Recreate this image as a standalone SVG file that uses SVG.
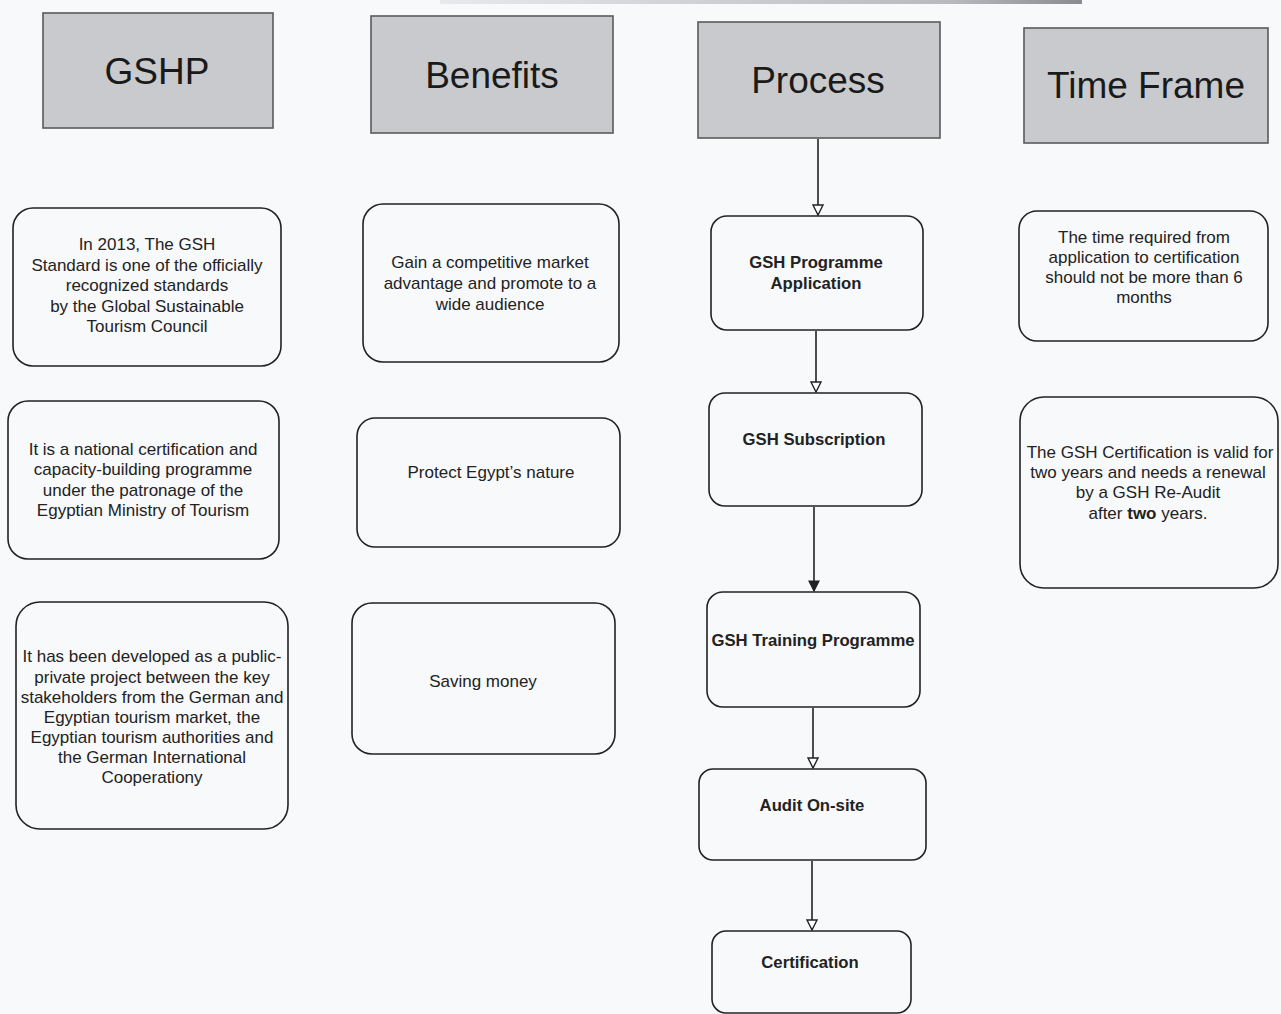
<svg xmlns="http://www.w3.org/2000/svg" width="1281" height="1014" viewBox="0 0 1281 1014">
<defs>
<style>
.hdr rect{fill:#c9cacd;stroke:#5a5a5a;stroke-width:1.6}
.hdr text{font-family:"Liberation Sans",Arial,sans-serif;font-size:37px;fill:#1a1a1a;text-anchor:middle}
.box rect{fill:none;stroke:#222;stroke-width:1.6}
.box text{font-family:"Liberation Sans",Arial,sans-serif;font-size:17px;fill:#222;text-anchor:middle}
.proc text{font-weight:bold;font-size:16.7px}
.conn line{stroke:#222;stroke-width:1.6}
</style>
<linearGradient id="topg" x1="0" y1="0" x2="1" y2="0">
<stop offset="0" stop-color="#e8e9ec"/>
<stop offset="0.8" stop-color="#b8b9bd"/>
<stop offset="1" stop-color="#8a8b90"/>
</linearGradient>
<marker id="open" viewBox="0 0 12 12" refX="11" refY="6" markerWidth="12" markerHeight="12" markerUnits="userSpaceOnUse" orient="auto">
<path d="M1,1 L11,6 L1,11 Z" fill="#fff" stroke="#222" stroke-width="1.4"/>
</marker>
<marker id="filled" viewBox="0 0 12 12" refX="11" refY="6" markerWidth="12" markerHeight="12" markerUnits="userSpaceOnUse" orient="auto">
<path d="M1,1 L11,6 L1,11 Z" fill="#222" stroke="#222" stroke-width="1.2"/>
</marker>
</defs>
<rect x="0" y="0" width="1281" height="1014" fill="#f8f9fb"/>
<rect x="440" y="0" width="642" height="4" fill="url(#topg)"/>

<g id="hdr-gshp" class="hdr"><rect x="43" y="13" width="230" height="115"/><text x="157" y="84">GSHP</text></g>
<g id="hdr-benefits" class="hdr"><rect x="371" y="16" width="242" height="117"/><text x="492" y="88">Benefits</text></g>
<g id="hdr-process" class="hdr"><rect x="698" y="22" width="242" height="116"/><text x="818" y="93">Process</text></g>
<g id="hdr-time" class="hdr"><rect x="1024" y="28" width="244" height="115"/><text x="1146" y="98">Time Frame</text></g>

<g id="gshp-1" class="box"><rect x="13" y="208" width="268" height="158" rx="20"/>
<text x="147"><tspan x="147" y="250">In 2013, The GSH</tspan><tspan x="147" y="271">Standard is one of the officially</tspan><tspan x="147" y="291">recognized standards</tspan><tspan x="147" y="312">by the Global Sustainable</tspan><tspan x="147" y="332">Tourism Council</tspan></text></g>
<g id="gshp-2" class="box"><rect x="8" y="401" width="271" height="158" rx="20"/>
<text x="143"><tspan x="143" y="455">It is a national certification and</tspan><tspan x="143" y="475">capacity-building programme</tspan><tspan x="143" y="496">under the patronage of the</tspan><tspan x="143" y="516">Egyptian Ministry of Tourism</tspan></text></g>
<g id="gshp-3" class="box"><rect x="16" y="602" width="272" height="227" rx="24"/>
<text x="152"><tspan x="152" y="662">It has been developed as a public-</tspan><tspan x="152" y="683">private project between the key</tspan><tspan x="152" y="703">stakeholders from the German and</tspan><tspan x="152" y="723">Egyptian tourism market, the</tspan><tspan x="152" y="743">Egyptian tourism authorities and</tspan><tspan x="152" y="763">the German International</tspan><tspan x="152" y="783">Cooperationy</tspan></text></g>

<g id="ben-1" class="box"><rect x="363" y="204" width="256" height="158" rx="20"/>
<text x="490"><tspan x="490" y="268">Gain a competitive market</tspan><tspan x="490" y="289">advantage and promote to a</tspan><tspan x="490" y="310">wide audience</tspan></text></g>
<g id="ben-2" class="box"><rect x="357" y="418" width="263" height="129" rx="18"/><text x="491" y="478">Protect Egypt’s nature</text></g>
<g id="ben-3" class="box"><rect x="352" y="603" width="263" height="151" rx="20"/><text x="483" y="687">Saving money</text></g>

<g id="proc-1" class="box proc"><rect x="711" y="216" width="212" height="114" rx="16"/>
<text x="816"><tspan x="816" y="268">GSH Programme</tspan><tspan x="816" y="289">Application</tspan></text></g>
<g id="proc-2" class="box proc"><rect x="709" y="393" width="213" height="113" rx="16"/><text x="814" y="445">GSH Subscription</text></g>
<g id="proc-3" class="box proc"><rect x="707" y="592" width="213" height="115" rx="16"/><text x="813" y="646">GSH Training Programme</text></g>
<g id="proc-4" class="box proc"><rect x="699" y="769" width="227" height="91" rx="14"/><text x="812" y="811">Audit On-site</text></g>
<g id="proc-5" class="box proc"><rect x="712" y="931" width="199" height="82" rx="14"/><text x="810" y="968">Certification</text></g>

<g id="time-1" class="box"><rect x="1019" y="211" width="249" height="130" rx="18"/>
<text x="1144"><tspan x="1144" y="243">The time required from</tspan><tspan x="1144" y="263">application to certification</tspan><tspan x="1144" y="283">should not be more than 6</tspan><tspan x="1144" y="303">months</tspan></text></g>
<g id="time-2" class="box"><rect x="1020" y="397" width="258" height="191" rx="24"/>
<text x="1150"><tspan x="1150" y="458">The GSH Certification is valid for</tspan><tspan x="1148" y="478">two years and needs a renewal</tspan><tspan x="1148" y="498">by a GSH Re-Audit</tspan><tspan x="1148" y="519">after <tspan font-weight="bold">two</tspan> years.</tspan></text></g>

<g id="connectors" class="conn">
<line x1="818" y1="139" x2="818" y2="215" marker-end="url(#open)"/>
<line x1="816" y1="331" x2="816" y2="392" marker-end="url(#open)"/>
<line x1="814" y1="507" x2="814" y2="591" marker-end="url(#filled)"/>
<line x1="813" y1="708" x2="813" y2="768" marker-end="url(#open)"/>
<line x1="812" y1="861" x2="812" y2="930" marker-end="url(#open)"/>
</g>
</svg>
